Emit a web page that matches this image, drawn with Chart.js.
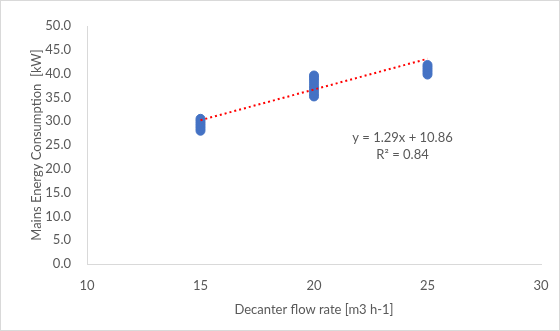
<!DOCTYPE html>
<html>
<head>
<meta charset="utf-8">
<script src="https://cdn.jsdelivr.net/npm/chart.js@4"></script>
<style>
  html, body { margin: 0; padding: 0; background: #fff; }
  #wrap { width: 560px; height: 331px; position: relative; }
</style>
</head>
<body>
<div id="wrap"><canvas id="scatter-chart"></canvas></div>
<script>
// measured points (flow rate, mains energy)
var flowRate = [15, 15, 15, 15, 15, 15,
	20, 20, 20, 20, 20, 20, 20, 20,
	25, 25, 25, 25, 25];
var energy = [28.0, 28.5, 29.0, 29.5, 30.0, 30.5,
	35.2, 35.8, 36.5, 37.2, 37.9, 38.6, 39.2, 39.6,
	39.8, 40.3, 40.8, 41.3, 41.8];

// linear trend y = 1.29x + 10.86
var trendSlope = 1.29;
var trendIntercept = 10.86;
var trendX = [15, 25];
var trendLabel = ['y = 1.29x + 10.86', 'R\u00b2 = 0.84'];

var yTicks = [0, 5, 10, 15, 20, 25, 30, 35, 40, 45, 50];
var xTicks = [10, 15, 20, 25, 30];

var textColor = '#595959';
var axisColor = '#d9d9d9';
var fontFamily = 'Lato';

var frame = {
	id: 'frame',
	beforeDraw: function(chart) {
		var c = chart.ctx;
		c.save();
		c.fillStyle = '#fff';
		c.fillRect(0, 0, chart.width, chart.height);
		c.strokeStyle = axisColor;
		c.lineWidth = 1;
		c.strokeRect(0.5, 0.5, chart.width - 1, chart.height - 1);
		c.restore();
	},
	afterDatasetsDraw: function(chart) {
		var c = chart.ctx;
		var x = chart.scales.x.getPixelForValue(23.9);
		var y = chart.scales.y.getPixelForValue(26.5);
		c.save();
		c.fillStyle = textColor;
		c.font = '13px ' + fontFamily;
		c.textAlign = 'center';
		c.textBaseline = 'middle';
		c.fillText(trendLabel[0], x, y);
		c.fillText(trendLabel[1], x, y + 17);
		c.restore();
	}
};

var points = flowRate.map(function(v, i) { return { x: v, y: energy[i] }; });
var trend = trendX.map(function(v) { return { x: v, y: trendSlope * v + trendIntercept }; });

Chart.defaults.font.family = fontFamily;
Chart.defaults.font.size = 13;
Chart.defaults.color = textColor;

var ctx = document.getElementById('scatter-chart').getContext('2d');
var chart = new Chart(ctx, {
	type: 'scatter',
	data: {
		datasets: [{
			label: 'Energy',
			data: points,
			backgroundColor: '#4472C4',
			borderColor: '#4472C4',
			pointRadius: 4.5,
			borderWidth: 1,
			order: 2
		}, {
			label: 'Trend',
			type: 'line',
			data: trend,
			borderColor: '#ff0000',
			borderWidth: 2,
			borderDash: [2, 3],
			pointRadius: 0,
			fill: false,
			order: 1
		}]
	},
	options: {
		responsive: true,
		maintainAspectRatio: false,
		animation: false,
		layout: { padding: { left: 25, right: 19, top: 26, bottom: 9 } },
		plugins: {
			legend: { display: false },
			tooltip: { enabled: false }
		},
		scales: {
			x: {
				type: 'linear',
				min: xTicks[0],
				max: xTicks[xTicks.length - 1],
				grid: { display: false },
				border: { color: axisColor },
				afterBuildTicks: function(s) { s.ticks = xTicks.map(function(v) { return { value: v }; }); },
				ticks: { padding: 6 },
				title: { display: true, text: 'Decanter flow rate [m3 h-1]', padding: { top: 4 } },
				afterFit: function(s) { s.height = 58; }
			},
			y: {
				min: yTicks[0],
				max: yTicks[yTicks.length - 1],
				grid: { display: false },
				border: { color: axisColor },
				afterBuildTicks: function(s) { s.ticks = yTicks.map(function(v) { return { value: v }; }); },
				ticks: { padding: 8, callback: function(v) { return v.toFixed(1); } },
				title: { display: true, text: 'Mains Energy Consumption  [kW]', padding: { bottom: 2 } },
				afterFit: function(s) { s.width = 62; }
			}
		}
	},
	plugins: [frame]
});
</script>
</body>
</html>
